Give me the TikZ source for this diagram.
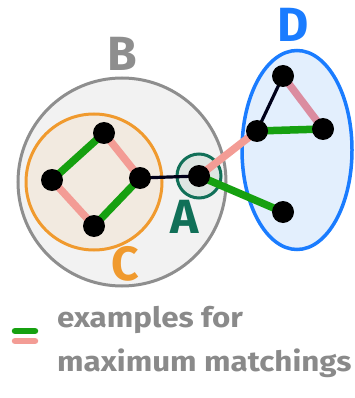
\documentclass[tikz,border=0pt]{standalone}
\usepackage{fontspec}
\setmainfont{Fira Sans}
\usetikzlibrary{shapes.geometric}
\definecolor{mgreen}{HTML}{16A010}
\definecolor{mpink}{HTML}{F39C95}
\definecolor{bgray}{HTML}{8E8E8E}
\definecolor{bfill}{HTML}{F2F2F2}
\definecolor{corange}{HTML}{F09A2E}
\definecolor{cfill}{HTML}{F2EAE0}
\definecolor{dblue}{HTML}{1A7CFF}
\definecolor{dfill}{HTML}{E3EFFD}
\definecolor{agreen}{HTML}{117058}
\definecolor{afill}{HTML}{DEE6E2}
\definecolor{tgray}{HTML}{8A8A8A}
\tikzset{
  vtx/.style={circle,fill=black,inner sep=0pt,minimum size=22pt},
  gedge/.style={line width=7.5pt,mgreen},
  pedge/.style={line width=7.5pt,mpink},
  kedge/.style={line width=3.2pt,black!90!blue},
  letter/.style={font=\fontsize{48}{48}\selectfont\bfseries,inner sep=0pt},
  legtext/.style={font=\fontsize{28}{28}\selectfont\bfseries,text=tgray,inner sep=0pt,anchor=base west}
}
\begin{document}
\begin{tikzpicture}[x=1pt,y=-1pt]
\useasboundingbox (0,0) rectangle (354,398);
% regions
\node[circle,draw=bgray,fill=bfill,line width=3pt,minimum size=208pt,inner sep=0pt] (B) at (122,182) {};
\node[circle,draw=corange,fill=cfill,line width=3pt,minimum size=136pt,inner sep=0pt] (C) at (94,182) {};
\node[ellipse,draw=dblue,fill=dfill,line width=3.5pt,minimum width=110pt,minimum height=199pt,inner sep=0pt] (D) at (297,150) {};
\node[circle,draw=agreen,fill=afill,line width=3pt,minimum size=44pt,inner sep=0pt] (Ac) at (199,176) {};
% vertices (coordinates)
\coordinate (c1) at (104,133);
\coordinate (c2) at (52,180);
\coordinate (c3) at (140,178);
\coordinate (c4) at (94,226);
\coordinate (a) at (199,176);
\coordinate (d1) at (283,76);
\coordinate (d2) at (257,131);
\coordinate (d3) at (323,129);
\coordinate (d4) at (283,212);
% edges
\draw[gedge] (c2) -- (c1);
\draw[pedge] (c1) -- (c3);
\draw[pedge] (c2) -- (c4);
\draw[gedge] (c4) -- (c3);
\draw[kedge] (c3) -- (a);
\draw[pedge] (a) -- (d2);
\draw[gedge] (a) -- (d4);
\draw[kedge] (d1) -- (d2);
\draw[pedge,color=mpink!90!blue] (d1) -- (d3);
\draw[gedge] (d2) -- (d3);
% vertex dots
\foreach \p in {c1,c2,c3,c4,a,d1,d2,d3,d4} \node[vtx] (n\p) at (\p) {};
% letters
\node[letter,text=bgray] (lB) at (122,54) {B};
\node[letter,text=dblue] (lD) at (293,25) {D};
\node[letter,text=agreen] (lA) at (185,217) {A};
\node[letter,text=corange] (lC) at (125,264) {C};
% legend
\coordinate (g1) at (15,331); \coordinate (g2) at (35,331);
\coordinate (p1) at (15,341); \coordinate (p2) at (35,341);
\draw[line width=6.5pt,mgreen,line cap=round] (g1) -- (g2);
\draw[line width=6.5pt,mpink,line cap=round] (p1) -- (p2);
\node[legtext] (t1) at (57,327) {\scalebox{1.12}[1]{examples for}};
\node[legtext] (t2) at (57,371) {\scalebox{1.12}[1]{maximum matchings}};
\end{tikzpicture}
\end{document}
